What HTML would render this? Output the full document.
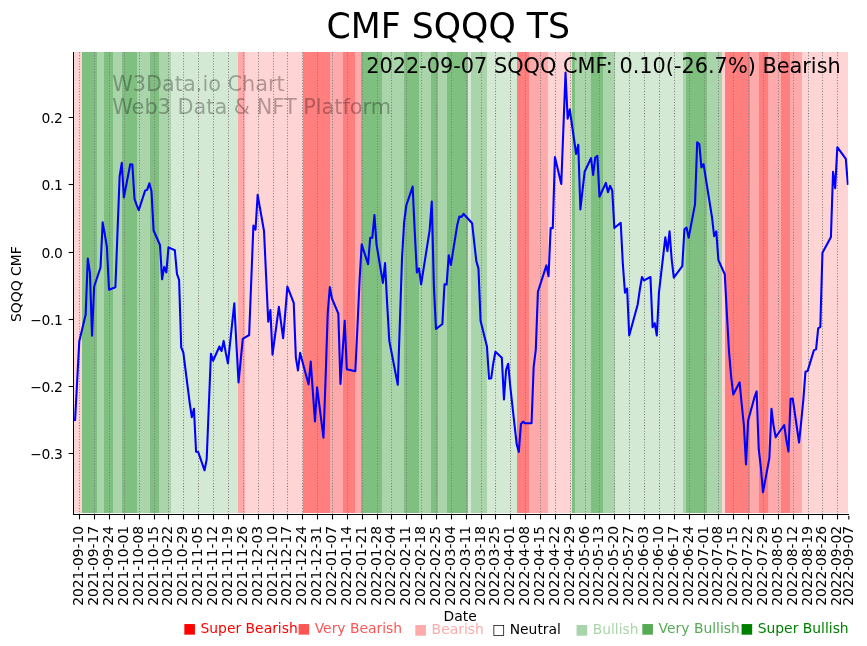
<!DOCTYPE html>
<html lang="en"><head><meta charset="utf-8"><title>CMF SQQQ TS</title>
<style>html,body{margin:0;padding:0;background:#ffffff;overflow:hidden;}svg{display:block;}</style>
</head><body>
<svg width="867" height="646" viewBox="0 0 867 646" font-family="'DejaVu Sans', 'Liberation Sans', sans-serif">
<rect x="0" y="0" width="867" height="646" fill="#ffffff"/>
<g shape-rendering="crispEdges" fill-opacity="0.5">
<rect x="73" y="52" width="9" height="461" fill="#ffaaaa"/>
<rect x="82" y="52" width="15" height="461" fill="#008000"/>
<rect x="97" y="52" width="7" height="461" fill="#55aa55"/>
<rect x="104" y="52" width="9" height="461" fill="#008000"/>
<rect x="113" y="52" width="9" height="461" fill="#55aa55"/>
<rect x="122" y="52" width="15" height="461" fill="#008000"/>
<rect x="137" y="52" width="13" height="461" fill="#55aa55"/>
<rect x="150" y="52" width="9" height="461" fill="#008000"/>
<rect x="159" y="52" width="12" height="461" fill="#55aa55"/>
<rect x="171" y="52" width="67" height="461" fill="#aad4aa"/>
<rect x="238" y="52" width="7" height="461" fill="#ff5555"/>
<rect x="245" y="52" width="58" height="461" fill="#ffaaaa"/>
<rect x="303" y="52" width="27" height="461" fill="#ff0000"/>
<rect x="330" y="52" width="13" height="461" fill="#ff5555"/>
<rect x="343" y="52" width="12" height="461" fill="#ff0000"/>
<rect x="355" y="52" width="6" height="461" fill="#ff5555"/>
<rect x="361" y="52" width="21" height="461" fill="#008000"/>
<rect x="382" y="52" width="22" height="461" fill="#55aa55"/>
<rect x="404" y="52" width="15" height="461" fill="#008000"/>
<rect x="419" y="52" width="12" height="461" fill="#55aa55"/>
<rect x="431" y="52" width="7" height="461" fill="#008000"/>
<rect x="438" y="52" width="9" height="461" fill="#55aa55"/>
<rect x="447" y="52" width="21" height="461" fill="#008000"/>
<rect x="468" y="52" width="3" height="461" fill="#aad4aa"/>
<rect x="471" y="52" width="16" height="461" fill="#55aa55"/>
<rect x="487" y="52" width="30" height="461" fill="#aad4aa"/>
<rect x="517" y="52" width="12" height="461" fill="#ff0000"/>
<rect x="529" y="52" width="19" height="461" fill="#ff5555"/>
<rect x="548" y="52" width="24" height="461" fill="#ffaaaa"/>
<rect x="572" y="52" width="3" height="461" fill="#008000"/>
<rect x="575" y="52" width="16" height="461" fill="#55aa55"/>
<rect x="591" y="52" width="12" height="461" fill="#008000"/>
<rect x="603" y="52" width="12" height="461" fill="#55aa55"/>
<rect x="615" y="52" width="68" height="461" fill="#aad4aa"/>
<rect x="683" y="52" width="3" height="461" fill="#55aa55"/>
<rect x="686" y="52" width="21" height="461" fill="#008000"/>
<rect x="707" y="52" width="15" height="461" fill="#55aa55"/>
<rect x="722" y="52" width="3" height="461" fill="#ffaaaa"/>
<rect x="725" y="52" width="25" height="461" fill="#ff0000"/>
<rect x="750" y="52" width="9" height="461" fill="#ff5555"/>
<rect x="759" y="52" width="9" height="461" fill="#ff0000"/>
<rect x="768" y="52" width="13" height="461" fill="#ff5555"/>
<rect x="781" y="52" width="9" height="461" fill="#ff0000"/>
<rect x="790" y="52" width="12" height="461" fill="#ff5555"/>
<rect x="802" y="52" width="46" height="461" fill="#ffaaaa"/>
</g>
<g stroke="#808080" stroke-opacity="1" stroke-width="1.04" stroke-dasharray="1.042 1.719" fill="none">
<line x1="79.5" y1="514.5" x2="79.5" y2="52"/>
<line x1="94.5" y1="514.5" x2="94.5" y2="52"/>
<line x1="109.5" y1="514.5" x2="109.5" y2="52"/>
<line x1="124.5" y1="514.5" x2="124.5" y2="52"/>
<line x1="139.5" y1="514.5" x2="139.5" y2="52"/>
<line x1="154.5" y1="514.5" x2="154.5" y2="52"/>
<line x1="168.5" y1="514.5" x2="168.5" y2="52"/>
<line x1="183.5" y1="514.5" x2="183.5" y2="52"/>
<line x1="198.5" y1="514.5" x2="198.5" y2="52"/>
<line x1="213.5" y1="514.5" x2="213.5" y2="52"/>
<line x1="228.5" y1="514.5" x2="228.5" y2="52"/>
<line x1="243.5" y1="514.5" x2="243.5" y2="52"/>
<line x1="258.5" y1="514.5" x2="258.5" y2="52"/>
<line x1="273.5" y1="514.5" x2="273.5" y2="52"/>
<line x1="287.5" y1="514.5" x2="287.5" y2="52"/>
<line x1="302.5" y1="514.5" x2="302.5" y2="52"/>
<line x1="317.5" y1="514.5" x2="317.5" y2="52"/>
<line x1="332.5" y1="514.5" x2="332.5" y2="52"/>
<line x1="347.5" y1="514.5" x2="347.5" y2="52"/>
<line x1="362.5" y1="514.5" x2="362.5" y2="52"/>
<line x1="377.5" y1="514.5" x2="377.5" y2="52"/>
<line x1="391.5" y1="514.5" x2="391.5" y2="52"/>
<line x1="406.5" y1="514.5" x2="406.5" y2="52"/>
<line x1="421.5" y1="514.5" x2="421.5" y2="52"/>
<line x1="436.5" y1="514.5" x2="436.5" y2="52"/>
<line x1="451.5" y1="514.5" x2="451.5" y2="52"/>
<line x1="466.5" y1="514.5" x2="466.5" y2="52"/>
<line x1="481.5" y1="514.5" x2="481.5" y2="52"/>
<line x1="495.5" y1="514.5" x2="495.5" y2="52"/>
<line x1="510.5" y1="514.5" x2="510.5" y2="52"/>
<line x1="525.5" y1="514.5" x2="525.5" y2="52"/>
<line x1="540.5" y1="514.5" x2="540.5" y2="52"/>
<line x1="555.5" y1="514.5" x2="555.5" y2="52"/>
<line x1="570.5" y1="514.5" x2="570.5" y2="52"/>
<line x1="585.5" y1="514.5" x2="585.5" y2="52"/>
<line x1="599.5" y1="514.5" x2="599.5" y2="52"/>
<line x1="614.5" y1="514.5" x2="614.5" y2="52"/>
<line x1="629.5" y1="514.5" x2="629.5" y2="52"/>
<line x1="644.5" y1="514.5" x2="644.5" y2="52"/>
<line x1="659.5" y1="514.5" x2="659.5" y2="52"/>
<line x1="674.5" y1="514.5" x2="674.5" y2="52"/>
<line x1="689.5" y1="514.5" x2="689.5" y2="52"/>
<line x1="704.5" y1="514.5" x2="704.5" y2="52"/>
<line x1="718.5" y1="514.5" x2="718.5" y2="52"/>
<line x1="733.5" y1="514.5" x2="733.5" y2="52"/>
<line x1="748.5" y1="514.5" x2="748.5" y2="52"/>
<line x1="763.5" y1="514.5" x2="763.5" y2="52"/>
<line x1="778.5" y1="514.5" x2="778.5" y2="52"/>
<line x1="793.5" y1="514.5" x2="793.5" y2="52"/>
<line x1="808.5" y1="514.5" x2="808.5" y2="52"/>
<line x1="822.5" y1="514.5" x2="822.5" y2="52"/>
<line x1="837.5" y1="514.5" x2="837.5" y2="52"/>
</g>
<clipPath id="ax"><rect x="73.4" y="52" width="775.1" height="462.5"/></clipPath>
<polyline clip-path="url(#ax)" points="75.04,421.00 77.17,381.00 79.29,341.30 85.66,314.60 87.78,258.60 89.91,272.30 92.03,335.70 94.15,286.50 100.52,267.50 102.65,222.40 104.77,234.30 106.89,246.80 109.02,289.70 115.39,287.30 117.51,232.00 119.63,176.30 121.76,162.90 123.88,197.40 130.25,164.30 132.37,164.60 134.50,198.80 136.62,204.80 138.74,210.20 145.11,190.60 147.24,189.70 149.36,183.30 151.48,191.20 153.60,230.50 159.97,245.00 162.10,279.20 164.22,266.90 166.34,272.40 168.47,247.40 174.84,250.20 176.96,273.80 179.08,279.80 181.21,347.30 183.33,352.50 189.70,402.90 191.82,417.20 193.95,408.80 196.07,451.80 198.19,452.00 204.56,470.30 206.69,459.30 208.81,406.20 210.93,353.70 213.06,360.70 219.43,346.50 221.55,351.00 223.67,340.90 225.80,352.90 227.92,363.30 234.29,303.40 236.41,344.30 238.54,382.50 242.78,338.80 249.15,335.00 251.28,280.00 253.40,225.60 255.52,229.70 257.65,194.90 264.02,231.00 266.14,277.00 268.26,321.70 270.39,310.10 272.51,354.70 278.88,306.80 281.00,322.30 283.13,338.20 285.25,312.80 287.37,286.60 293.74,302.80 295.87,357.60 297.99,370.50 300.11,352.90 308.60,384.40 310.73,361.60 312.85,391.70 314.97,421.50 317.10,387.40 323.47,437.70 325.59,378.50 327.71,313.60 329.84,287.10 331.96,298.50 338.33,313.60 340.45,383.90 342.58,352.00 344.70,320.90 346.82,369.20 355.32,371.20 357.44,327.00 359.56,280.50 361.69,244.40 368.06,264.20 370.18,237.80 372.30,237.80 374.43,215.10 376.55,244.60 382.92,282.90 385.04,263.10 387.17,304.00 389.29,340.60 391.41,351.80 397.78,384.70 399.91,321.60 402.03,258.00 404.15,222.10 406.28,205.50 412.65,186.60 414.77,232.00 416.89,272.40 419.02,268.40 421.14,284.40 429.63,230.30 431.76,201.60 433.88,286.00 436.00,329.00 442.37,324.00 444.50,284.20 446.62,284.50 448.74,255.30 450.87,265.00 457.24,225.00 459.36,216.60 461.48,216.90 463.60,213.90 465.73,216.20 472.10,223.20 474.22,242.30 476.34,261.10 478.47,268.60 480.59,321.00 486.96,346.60 489.08,378.80 491.21,378.30 493.33,363.00 495.45,351.70 501.82,357.80 503.95,399.40 506.07,370.00 508.19,363.70 510.32,387.00 516.69,444.30 518.81,452.00 520.93,424.00 523.06,421.70 525.18,423.30 531.55,423.30 533.67,366.80 535.80,349.60 537.92,291.80 546.41,265.40 548.54,276.20 550.66,228.10 552.78,228.10 554.91,157.10 561.28,183.90 563.40,128.00 565.52,72.60 567.65,118.70 569.77,109.40 576.14,154.00 578.26,144.70 580.39,209.50 582.51,190.50 584.63,171.80 591.00,158.10 593.13,174.90 595.25,157.50 597.37,155.90 599.50,196.70 605.87,182.90 607.99,192.20 610.11,185.90 612.24,190.50 614.36,228.00 620.73,222.80 622.85,264.20 624.97,292.60 627.10,288.50 629.22,335.50 637.71,304.50 639.84,289.50 641.96,277.00 644.08,280.40 650.45,277.00 652.58,327.20 654.70,323.20 656.82,335.50 658.95,292.70 665.32,237.40 667.44,251.20 669.56,231.40 671.69,259.50 673.81,277.60 682.30,266.10 684.43,229.30 686.55,227.60 688.67,237.70 695.04,204.10 697.17,142.40 699.29,144.00 701.41,167.40 703.54,164.10 712.03,217.50 714.15,236.20 716.28,231.40 718.40,260.10 724.77,274.30 726.89,314.00 729.02,351.60 731.14,376.50 733.26,394.40 739.63,382.30 741.76,404.80 743.88,425.00 746.00,464.40 748.13,420.50 754.50,397.20 756.62,391.40 758.74,449.20 760.87,467.50 762.99,492.30 769.36,458.10 771.48,408.80 773.60,426.10 775.73,437.20 777.85,434.00 784.22,425.20 786.34,439.90 788.47,451.50 790.59,398.80 792.71,398.60 799.08,442.50 801.21,421.60 803.33,400.00 805.45,371.80 807.58,371.10 813.95,350.10 816.07,349.30 818.19,328.30 820.32,326.80 822.44,252.70 828.81,240.90 830.93,236.90 833.06,171.80 835.18,188.20 837.30,147.20 845.80,158.90 847.92,184.80" fill="none" stroke="#0000ff" stroke-width="2.08" stroke-linejoin="round" stroke-linecap="butt"/>
<g shape-rendering="crispEdges" fill="#000000">
<rect x="73" y="52" width="1" height="463"/>
<rect x="73" y="514" width="776" height="1"/>
</g>
<g stroke="#000000" stroke-width="1.1" fill="none">
<line x1="79.5" y1="515" x2="79.5" y2="519.4"/>
<line x1="94.5" y1="515" x2="94.5" y2="519.4"/>
<line x1="109.5" y1="515" x2="109.5" y2="519.4"/>
<line x1="124.5" y1="515" x2="124.5" y2="519.4"/>
<line x1="139.5" y1="515" x2="139.5" y2="519.4"/>
<line x1="154.5" y1="515" x2="154.5" y2="519.4"/>
<line x1="168.5" y1="515" x2="168.5" y2="519.4"/>
<line x1="183.5" y1="515" x2="183.5" y2="519.4"/>
<line x1="198.5" y1="515" x2="198.5" y2="519.4"/>
<line x1="213.5" y1="515" x2="213.5" y2="519.4"/>
<line x1="228.5" y1="515" x2="228.5" y2="519.4"/>
<line x1="243.5" y1="515" x2="243.5" y2="519.4"/>
<line x1="258.5" y1="515" x2="258.5" y2="519.4"/>
<line x1="273.5" y1="515" x2="273.5" y2="519.4"/>
<line x1="287.5" y1="515" x2="287.5" y2="519.4"/>
<line x1="302.5" y1="515" x2="302.5" y2="519.4"/>
<line x1="317.5" y1="515" x2="317.5" y2="519.4"/>
<line x1="332.5" y1="515" x2="332.5" y2="519.4"/>
<line x1="347.5" y1="515" x2="347.5" y2="519.4"/>
<line x1="362.5" y1="515" x2="362.5" y2="519.4"/>
<line x1="377.5" y1="515" x2="377.5" y2="519.4"/>
<line x1="391.5" y1="515" x2="391.5" y2="519.4"/>
<line x1="406.5" y1="515" x2="406.5" y2="519.4"/>
<line x1="421.5" y1="515" x2="421.5" y2="519.4"/>
<line x1="436.5" y1="515" x2="436.5" y2="519.4"/>
<line x1="451.5" y1="515" x2="451.5" y2="519.4"/>
<line x1="466.5" y1="515" x2="466.5" y2="519.4"/>
<line x1="481.5" y1="515" x2="481.5" y2="519.4"/>
<line x1="495.5" y1="515" x2="495.5" y2="519.4"/>
<line x1="510.5" y1="515" x2="510.5" y2="519.4"/>
<line x1="525.5" y1="515" x2="525.5" y2="519.4"/>
<line x1="540.5" y1="515" x2="540.5" y2="519.4"/>
<line x1="555.5" y1="515" x2="555.5" y2="519.4"/>
<line x1="570.5" y1="515" x2="570.5" y2="519.4"/>
<line x1="585.5" y1="515" x2="585.5" y2="519.4"/>
<line x1="599.5" y1="515" x2="599.5" y2="519.4"/>
<line x1="614.5" y1="515" x2="614.5" y2="519.4"/>
<line x1="629.5" y1="515" x2="629.5" y2="519.4"/>
<line x1="644.5" y1="515" x2="644.5" y2="519.4"/>
<line x1="659.5" y1="515" x2="659.5" y2="519.4"/>
<line x1="674.5" y1="515" x2="674.5" y2="519.4"/>
<line x1="689.5" y1="515" x2="689.5" y2="519.4"/>
<line x1="704.5" y1="515" x2="704.5" y2="519.4"/>
<line x1="718.5" y1="515" x2="718.5" y2="519.4"/>
<line x1="733.5" y1="515" x2="733.5" y2="519.4"/>
<line x1="748.5" y1="515" x2="748.5" y2="519.4"/>
<line x1="763.5" y1="515" x2="763.5" y2="519.4"/>
<line x1="778.5" y1="515" x2="778.5" y2="519.4"/>
<line x1="793.5" y1="515" x2="793.5" y2="519.4"/>
<line x1="808.5" y1="515" x2="808.5" y2="519.4"/>
<line x1="822.5" y1="515" x2="822.5" y2="519.4"/>
<line x1="837.5" y1="515" x2="837.5" y2="519.4"/>
<line x1="848.8" y1="515.8" x2="848.8" y2="519.4"/>
<line x1="68.64" y1="117.5" x2="73" y2="117.5"/>
<line x1="68.64" y1="184.5" x2="73" y2="184.5"/>
<line x1="68.64" y1="252.5" x2="73" y2="252.5"/>
<line x1="68.64" y1="319.5" x2="73" y2="319.5"/>
<line x1="68.64" y1="386.5" x2="73" y2="386.5"/>
<line x1="68.64" y1="453.5" x2="73" y2="453.5"/>
</g>
<g font-size="13.889px" fill="#000000">
<text x="62.6" y="122.70" text-anchor="end" letter-spacing="-0.35">0.2</text>
<text x="62.6" y="189.70" text-anchor="end" letter-spacing="-0.35">0.1</text>
<text x="62.6" y="257.70" text-anchor="end" letter-spacing="-0.35">0.0</text>
<text x="62.6" y="324.70" text-anchor="end" letter-spacing="-0.35">−0.1</text>
<text x="62.6" y="391.70" text-anchor="end" letter-spacing="-0.35">−0.2</text>
<text x="62.6" y="458.70" text-anchor="end" letter-spacing="-0.35">−0.3</text>
<text transform="translate(83.00,526.1) rotate(-90)" text-anchor="end" letter-spacing="-0.1">2021-09-10</text>
<text transform="translate(98.00,526.1) rotate(-90)" text-anchor="end" letter-spacing="-0.1">2021-09-17</text>
<text transform="translate(113.00,526.1) rotate(-90)" text-anchor="end" letter-spacing="-0.1">2021-09-24</text>
<text transform="translate(128.00,526.1) rotate(-90)" text-anchor="end" letter-spacing="-0.1">2021-10-01</text>
<text transform="translate(143.00,526.1) rotate(-90)" text-anchor="end" letter-spacing="-0.1">2021-10-08</text>
<text transform="translate(158.00,526.1) rotate(-90)" text-anchor="end" letter-spacing="-0.1">2021-10-15</text>
<text transform="translate(172.00,526.1) rotate(-90)" text-anchor="end" letter-spacing="-0.1">2021-10-22</text>
<text transform="translate(187.00,526.1) rotate(-90)" text-anchor="end" letter-spacing="-0.1">2021-10-29</text>
<text transform="translate(202.00,526.1) rotate(-90)" text-anchor="end" letter-spacing="-0.1">2021-11-05</text>
<text transform="translate(217.00,526.1) rotate(-90)" text-anchor="end" letter-spacing="-0.1">2021-11-12</text>
<text transform="translate(232.00,526.1) rotate(-90)" text-anchor="end" letter-spacing="-0.1">2021-11-19</text>
<text transform="translate(247.00,526.1) rotate(-90)" text-anchor="end" letter-spacing="-0.1">2021-11-26</text>
<text transform="translate(262.00,526.1) rotate(-90)" text-anchor="end" letter-spacing="-0.1">2021-12-03</text>
<text transform="translate(277.00,526.1) rotate(-90)" text-anchor="end" letter-spacing="-0.1">2021-12-10</text>
<text transform="translate(291.00,526.1) rotate(-90)" text-anchor="end" letter-spacing="-0.1">2021-12-17</text>
<text transform="translate(306.00,526.1) rotate(-90)" text-anchor="end" letter-spacing="-0.1">2021-12-24</text>
<text transform="translate(321.00,526.1) rotate(-90)" text-anchor="end" letter-spacing="-0.1">2021-12-31</text>
<text transform="translate(336.00,526.1) rotate(-90)" text-anchor="end" letter-spacing="-0.1">2022-01-07</text>
<text transform="translate(351.00,526.1) rotate(-90)" text-anchor="end" letter-spacing="-0.1">2022-01-14</text>
<text transform="translate(366.00,526.1) rotate(-90)" text-anchor="end" letter-spacing="-0.1">2022-01-21</text>
<text transform="translate(381.00,526.1) rotate(-90)" text-anchor="end" letter-spacing="-0.1">2022-01-28</text>
<text transform="translate(395.00,526.1) rotate(-90)" text-anchor="end" letter-spacing="-0.1">2022-02-04</text>
<text transform="translate(410.00,526.1) rotate(-90)" text-anchor="end" letter-spacing="-0.1">2022-02-11</text>
<text transform="translate(425.00,526.1) rotate(-90)" text-anchor="end" letter-spacing="-0.1">2022-02-18</text>
<text transform="translate(440.00,526.1) rotate(-90)" text-anchor="end" letter-spacing="-0.1">2022-02-25</text>
<text transform="translate(455.00,526.1) rotate(-90)" text-anchor="end" letter-spacing="-0.1">2022-03-04</text>
<text transform="translate(470.00,526.1) rotate(-90)" text-anchor="end" letter-spacing="-0.1">2022-03-11</text>
<text transform="translate(485.00,526.1) rotate(-90)" text-anchor="end" letter-spacing="-0.1">2022-03-18</text>
<text transform="translate(499.00,526.1) rotate(-90)" text-anchor="end" letter-spacing="-0.1">2022-03-25</text>
<text transform="translate(514.00,526.1) rotate(-90)" text-anchor="end" letter-spacing="-0.1">2022-04-01</text>
<text transform="translate(529.00,526.1) rotate(-90)" text-anchor="end" letter-spacing="-0.1">2022-04-08</text>
<text transform="translate(544.00,526.1) rotate(-90)" text-anchor="end" letter-spacing="-0.1">2022-04-15</text>
<text transform="translate(559.00,526.1) rotate(-90)" text-anchor="end" letter-spacing="-0.1">2022-04-22</text>
<text transform="translate(574.00,526.1) rotate(-90)" text-anchor="end" letter-spacing="-0.1">2022-04-29</text>
<text transform="translate(589.00,526.1) rotate(-90)" text-anchor="end" letter-spacing="-0.1">2022-05-06</text>
<text transform="translate(603.00,526.1) rotate(-90)" text-anchor="end" letter-spacing="-0.1">2022-05-13</text>
<text transform="translate(618.00,526.1) rotate(-90)" text-anchor="end" letter-spacing="-0.1">2022-05-20</text>
<text transform="translate(633.00,526.1) rotate(-90)" text-anchor="end" letter-spacing="-0.1">2022-05-27</text>
<text transform="translate(648.00,526.1) rotate(-90)" text-anchor="end" letter-spacing="-0.1">2022-06-03</text>
<text transform="translate(663.00,526.1) rotate(-90)" text-anchor="end" letter-spacing="-0.1">2022-06-10</text>
<text transform="translate(678.00,526.1) rotate(-90)" text-anchor="end" letter-spacing="-0.1">2022-06-17</text>
<text transform="translate(693.00,526.1) rotate(-90)" text-anchor="end" letter-spacing="-0.1">2022-06-24</text>
<text transform="translate(708.00,526.1) rotate(-90)" text-anchor="end" letter-spacing="-0.1">2022-07-01</text>
<text transform="translate(722.00,526.1) rotate(-90)" text-anchor="end" letter-spacing="-0.1">2022-07-08</text>
<text transform="translate(737.00,526.1) rotate(-90)" text-anchor="end" letter-spacing="-0.1">2022-07-15</text>
<text transform="translate(752.00,526.1) rotate(-90)" text-anchor="end" letter-spacing="-0.1">2022-07-22</text>
<text transform="translate(767.00,526.1) rotate(-90)" text-anchor="end" letter-spacing="-0.1">2022-07-29</text>
<text transform="translate(782.00,526.1) rotate(-90)" text-anchor="end" letter-spacing="-0.1">2022-08-05</text>
<text transform="translate(797.00,526.1) rotate(-90)" text-anchor="end" letter-spacing="-0.1">2022-08-12</text>
<text transform="translate(812.00,526.1) rotate(-90)" text-anchor="end" letter-spacing="-0.1">2022-08-19</text>
<text transform="translate(826.00,526.1) rotate(-90)" text-anchor="end" letter-spacing="-0.1">2022-08-26</text>
<text transform="translate(841.00,526.1) rotate(-90)" text-anchor="end" letter-spacing="-0.1">2022-09-02</text>
<text transform="translate(853.00,526.1) rotate(-90)" text-anchor="end" letter-spacing="-0.1">2022-09-07</text>
<text x="443.6" y="621">Date</text>
<text transform="translate(21.3,284.2) rotate(-90)" text-anchor="middle">SQQQ CMF</text>
</g>
<text x="448.3" y="37.8" font-size="34.72px" text-anchor="middle" letter-spacing="0.02" fill="#000000">CMF SQQQ TS</text>
<g font-size="20.83px" fill="#000000" fill-opacity="0.3">
<text x="112.2" y="91.1">W3Data.io Chart</text>
<text x="112.2" y="113.6">Web3 Data &amp; NFT Platform</text>
</g>
<text x="840.7" y="72.6" font-size="20.83px" text-anchor="end" fill="#000000">2022-09-07 SQQQ CMF: 0.10(-26.7%) Bearish</text>
<g font-size="13.889px">
<text x="183.0" y="633.0" fill="#ff0000">■ Super Bearish</text>
<text x="297.2" y="633.0" fill="#ff5555">■ Very Bearish</text>
<text x="414.1" y="634.0" fill="#ffaaaa">■ Bearish</text>
<text x="492.2" y="634.0" fill="#000000">□ Neutral</text>
<text x="575.2" y="634.0" fill="#aad4aa">■ Bullish</text>
<text x="641.1" y="633.0" fill="#55aa55">■ Very Bullish</text>
<text x="740.2" y="633.0" fill="#008000">■ Super Bullish</text>
</g>
</svg>
</body></html>
